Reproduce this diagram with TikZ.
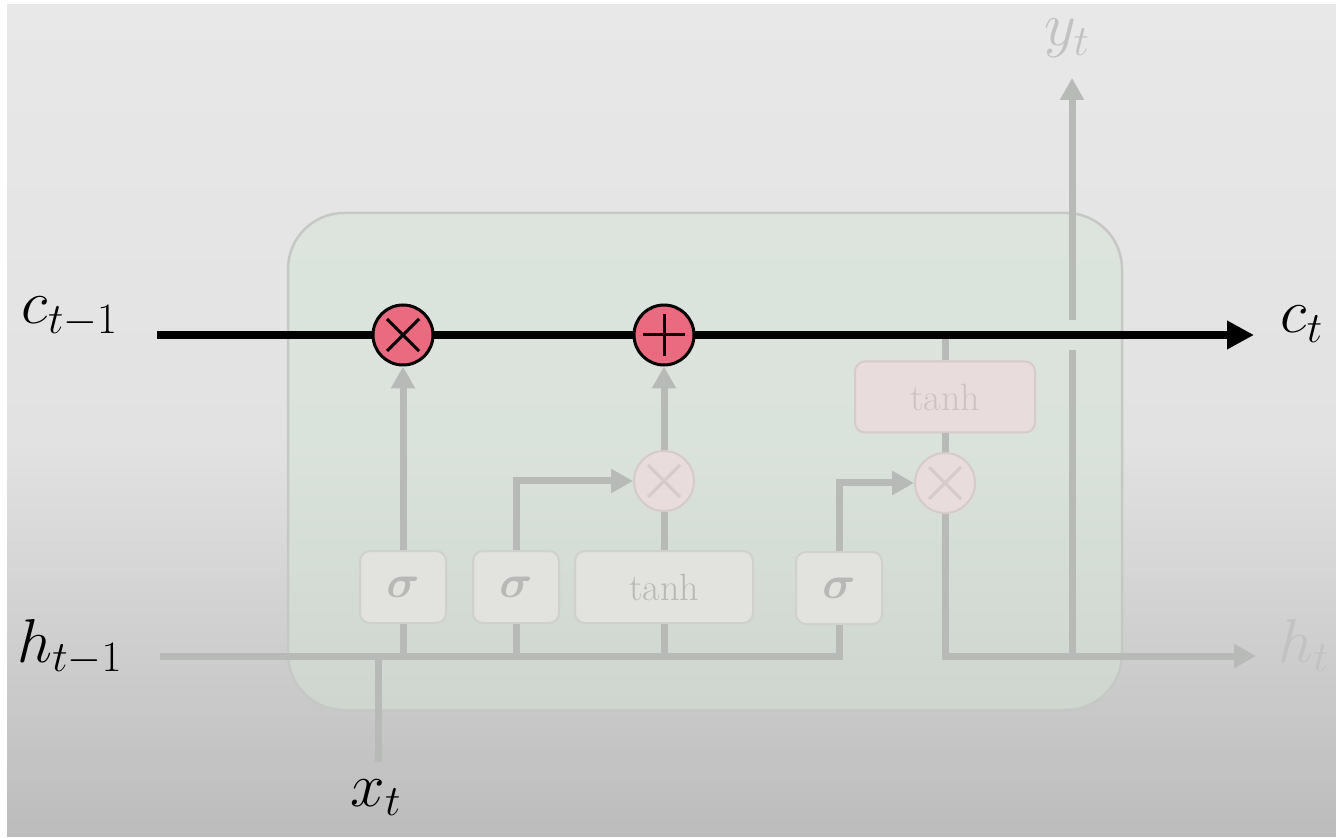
\documentclass[tikz,border=0pt]{standalone}
\usepackage{fix-cm}
\usepackage{tikz}
\usetikzlibrary{arrows,arrows.meta,positioning,shapes.geometric}
\definecolor{bgtop}{RGB}{232,232,232}
\definecolor{bgmid}{RGB}{226,226,226}
\definecolor{bgbot}{RGB}{188,188,188}
\definecolor{cellfill}{RGB}{212,228,214}
\definecolor{celledge}{RGB}{198,200,198}
\definecolor{wiregray}{RGB}{184,186,184}
\definecolor{gatefill}{RGB}{226,226,223}
\definecolor{gateedge}{RGB}{208,208,205}
\definecolor{gatetext}{RGB}{184,184,182}
\definecolor{pinkfill}{RGB}{232,220,220}
\definecolor{pinkedge}{RGB}{214,202,202}
\definecolor{pinktext}{RGB}{206,194,194}
\definecolor{oppink}{RGB}{234,106,128}
\definecolor{fadelabel}{RGB}{194,194,194}
\tikzset{
  cell/.style={draw=celledge, line width=1.25pt, fill=cellfill, fill opacity=0.5, rounded corners=28pt},
  wire/.style={draw=wiregray, line width=3.5pt},
  wirearrow/.style={wire, -{Triangle[length=11pt,width=11.5pt]}},
  cstate/.style={line width=4pt, -{Triangle[length=13.5pt,width=13.5pt]}},
  gate/.style={draw=gateedge, line width=1pt, fill=gatefill, rounded corners=5pt, text=gatetext, minimum width=43pt, minimum height=36pt, inner sep=0pt, font=\fontsize{23}{27}\selectfont\boldmath},
  tanhgate/.style={gate, minimum width=89pt, font=\fontsize{19}{23}\selectfont},
  outgate/.style={tanhgate, minimum width=90pt, minimum height=35.5pt, fill=pinkfill, draw=pinkedge, text=pinktext},
  timesmark/.style={path picture={\draw[draw=#1, line width=1.5pt]
      ([shift={(-8pt,-8pt)}]path picture bounding box.center) -- ([shift={(8pt,8pt)}]path picture bounding box.center)
      ([shift={(-8pt,8pt)}]path picture bounding box.center) -- ([shift={(8pt,-8pt)}]path picture bounding box.center);}},
  plusmark/.style={path picture={\draw[draw=#1, line width=1.5pt]
      ([shift={(-10.5pt,0pt)}]path picture bounding box.center) -- ([shift={(10.5pt,0pt)}]path picture bounding box.center)
      ([shift={(0pt,-10.5pt)}]path picture bounding box.center) -- ([shift={(0pt,10.5pt)}]path picture bounding box.center);}},
  bigop/.style={circle, draw=black, line width=1.5pt, fill=oppink, minimum size=30pt, inner sep=0pt},
  smallop/.style={circle, draw=pinkedge, line width=1pt, fill=pinkfill, minimum size=30pt, inner sep=0pt, timesmark=pinkedge},
  lbl/.style={inner sep=0pt, font=\fontsize{31}{37}\selectfont},
  fadelbl/.style={lbl, text=fadelabel}
}
\begin{document}
\begin{tikzpicture}[x=0.5pt,y=-0.5pt]
  % page and background
  \useasboundingbox (0,0) rectangle (1336,838);
  \fill[white] (0,0) rectangle (1336,838);
  \shade[top color=bgtop, bottom color=bgmid] (7,5) rectangle (1336,441);
  \shade[top color=bgmid, bottom color=bgbot] (7,440) rectangle (1336,836);
  \draw[cell] (288,213) rectangle (1122,710);

  % fixed points
  \coordinate (cstart) at (157,335);
  \coordinate (cend)   at (1254,335);
  \coordinate (hstart) at (160,656);
  \coordinate (hend)   at (1256,656);
  \coordinate (xbot)   at (378,762);
  \coordinate (ylow)   at (1072,656);
  \coordinate (ygapb)  at (1072,350);
  \coordinate (ygapt)  at (1072,320);
  \coordinate (ytip)   at (1072,78);

  % gates
  \node[gate]     (sigf)  at (403,587) {$\sigma$};
  \node[gate]     (sigi)  at (516,587) {$\sigma$};
  \node[tanhgate] (tanhc) at (664,587) {tanh};
  \node[gate]     (sigo)  at (839,588) {$\sigma$};
  \node[outgate]  (tanho) at (945,397) {tanh};
  \node[smallop]  (inmul)  at (664,481) {};
  \node[smallop]  (outmul) at (945,483) {};

  % hidden state wires
  \draw[wire] (hstart) -- (sigo.south |- hstart) -- (sigo.south);
  \draw[wire] (sigf.south) -- (sigf.south |- hstart);
  \draw[wire] (sigi.south) -- (sigi.south |- hstart);
  \draw[wire] (tanhc.south) -- (tanhc.south |- hstart);
  \draw[wire] (xbot) -- (xbot |- hstart);
  \draw[wirearrow] (sigi.north) |- (inmul.west);
  \draw[wirearrow] (sigo.north) |- (outmul.west);
  \draw[wire] (tanhc.north) -- (inmul.south);
  \draw[wire] (tanho.north) -- (tanho.north |- cstart);
  \draw[wire] (tanho.south) -- (outmul.north);
  \draw[wirearrow] (outmul.south) |- (hend);
  \draw[wire] (ylow) -- (ygapb);
  \draw[wirearrow] (ygapt) -- (ytip);

  % cell state
  \draw[cstate] (cstart) -- (cend);
  \node[bigop, timesmark=black] (forget) at (403,335) {};
  \node[bigop, plusmark=black]  (addc)   at (664,335) {};
  \draw[wirearrow] (sigf.north) -- (forget.south);
  \draw[wirearrow] (inmul.north) -- (addc.south);

  % labels
  \node[lbl, anchor=base]     (cprev) at (70,324)   {$c_{t-1}$};
  \node[lbl, anchor=base]     (cnext) at (1302,333) {$c_t$};
  \node[lbl, anchor=base]     (hprev) at (70,662)   {$h_{t-1}$};
  \node[fadelbl, anchor=base] (hnext) at (1304,662) {$h_t$};
  \node[lbl, anchor=base]     (xin)   at (376,806)  {$x_t$};
  \node[fadelbl, anchor=base] (yout)  at (1067,46)  {$y_t$};
\end{tikzpicture}
\end{document}
